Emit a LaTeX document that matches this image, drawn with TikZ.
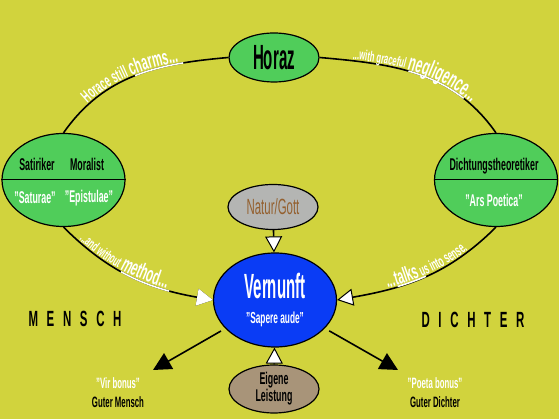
\documentclass[tikz,border=0pt]{standalone}
\usepackage{fontspec}
\setmainfont{Liberation Sans}[FakeStretch=0.52]
\newfontfamily\narrowfont{Liberation Sans}[FakeStretch=0.43]
\usepackage{tikz}
\usetikzlibrary{arrows.meta,positioning,shapes.geometric,decorations.text}
\definecolor{horazbg}{HTML}{D1D33D}
\definecolor{horazgreen}{HTML}{50CD5A}
\definecolor{horazblue}{HTML}{0A3CF5}
\definecolor{horazgray}{HTML}{B4B5B3}
\definecolor{horaztaupe}{HTML}{A89479}
\definecolor{horazbrown}{HTML}{94602F}
\newcommand{\fsz}[2]{\fontsize{#1}{#2}\selectfont}

\begin{document}
\begin{tikzpicture}[
  x=1pt, y=1pt,
  oval/.style={ellipse, draw, line width=1.2pt, inner sep=0pt},
  rolebox/.style={oval, fill=horazgreen, minimum width=123pt, minimum height=93pt},
  roletext/.style={font=\bfseries\fsz{17}{19}},
  goodtext/.style={font=\bfseries\fsz{15}{17}},
  sidelabel/.style={font=\bfseries\fsz{22}{24}\addfontfeature{LetterSpace=25}},
  link/.style={line width=1.6pt},
  openarrow/.style={link, -{Triangle[length=16pt, width=17pt, fill=white, line width=1pt]}},
  goalarrow/.style={link, -{Triangle[length=18pt, width=18pt]}, shorten <=5pt},
  hilite/.style={draw=white, line width=1.6pt, dash pattern=#1},
  arclabel/.style={decoration={text along path, text color=white, raise=1.5pt,
                   text align={left, left indent=#1}}}
]
\path[use as bounding box, fill=horazbg] (0,0) rectangle (559,419);

% central ovals
\node[oval, fill=horazgreen, minimum width=90pt, minimum height=49pt,
  font=\narrowfont\bfseries\fsz{35}{38}] (horaz) at (274,361.5) {Horaz};
\node[oval, fill=horazgray, minimum width=90pt, minimum height=45pt, text=horazbrown,
  font=\fsz{22}{24}] (natur) at (273,212) {Natur/Gott};
\node[oval, fill=horazblue, minimum width=123pt, minimum height=94pt, text=white, align=center,
  font=\narrowfont\bfseries\fsz{35}{25}] (vernunft) at (275,119)
  {Vernunft\\{\normalfont\bfseries\fsz{16}{18}"Sapere aude"}};
\node[oval, fill=horaztaupe, minimum width=90pt, minimum height=48pt, align=center,
  font=\bfseries\fsz{17}{17}] (eigene) at (274,30) {Eigene\\Leistung};

% the two works
\node[rolebox] (satire) at (63.5,239) {};
\draw[line width=1pt] (satire.west) -- (satire.east);
\node[roletext] (satiriker) at (37,255) {Satiriker};
\node[roletext] (moralist) at (87,255) {Moralist};
\node[roletext, text=white] (saturae) at (35,221) {"Saturae"};
\node[roletext, text=white] (epistulae) at (89,221) {"Epistulae"};

\node[rolebox] (poetica) at (496,239) {};
\draw[line width=1pt] (poetica.west) -- (poetica.east);
\node[roletext] (theoretiker) at (494,253) {Dichtungstheoretiker};
\node[roletext, text=white] (arspoetica) at (494,219) {"Ars Poetica"};

% sides
\node[sidelabel] (mensch) at (75,100) {M E N S C H};
\node[sidelabel] (dichter) at (473,99) {D I C H T E R};

\node[goodtext, text=white] (virbonus) at (118,36) {"Vir bonus"};
\node[goodtext] (gutermensch) at (118,17) {Guter Mensch};
\node[goodtext, text=white] (poetabonus) at (435,36) {"Poeta bonus"};
\node[goodtext] (guterdichter) at (435,17) {Guter Dichter};
\coordinate (virtip) at (153,49);
\coordinate (poetatip) at (398,49);

% arcs with labels
\draw[link, postaction={hilite={on 0pt off 93pt on 50pt off 2000pt}},
  postaction={decorate, arclabel=38pt, decoration={text={|\bfseries\fsz{17.5}{20}|Horace still |\bfseries\fsz{21.5}{24}|charms...}}}]
  (satire.north) to[out=55, in=185] (horaz.west);
\draw[link, postaction={hilite={on 0pt off 90pt on 62pt off 2000pt}},
  postaction={decorate, arclabel=33pt, decoration={text={|\bfseries\fsz{14.5}{17}|...with graceful |\bfseries\fsz{23}{26}|negligence...}}}]
  (horaz.east) to[out=-5, in=125] (poetica.north);
\draw[openarrow, postaction={hilite={on 0pt off 73pt on 52pt off 2000pt}},
  postaction={decorate, arclabel=20pt, decoration={text={|\bfseries\fsz{14.5}{17}|...and without |\bfseries\fsz{22}{25}|method...}}}]
  (satire.south) to[out=-45, in=170] (vernunft.west);
\draw[openarrow] (poetica.south) to[out=-135, in=10] (vernunft.east);
\path[postaction={hilite={on 0pt off 62pt on 30pt off 2000pt}},
  postaction={decorate, arclabel=52pt, decoration={text={|\bfseries\fsz{21}{24}|...talks|\bfseries\fsz{15.5}{18}| us into sense.}}}]
  (vernunft.east) to[out=10, in=-135] (poetica.south);

% sources and goals
\draw[openarrow] (natur) -- (vernunft);
\draw[openarrow] (eigene) -- (vernunft);
\draw[goalarrow] (vernunft) -- (virtip);
\draw[goalarrow] (vernunft) -- (poetatip);
\end{tikzpicture}
\end{document}
